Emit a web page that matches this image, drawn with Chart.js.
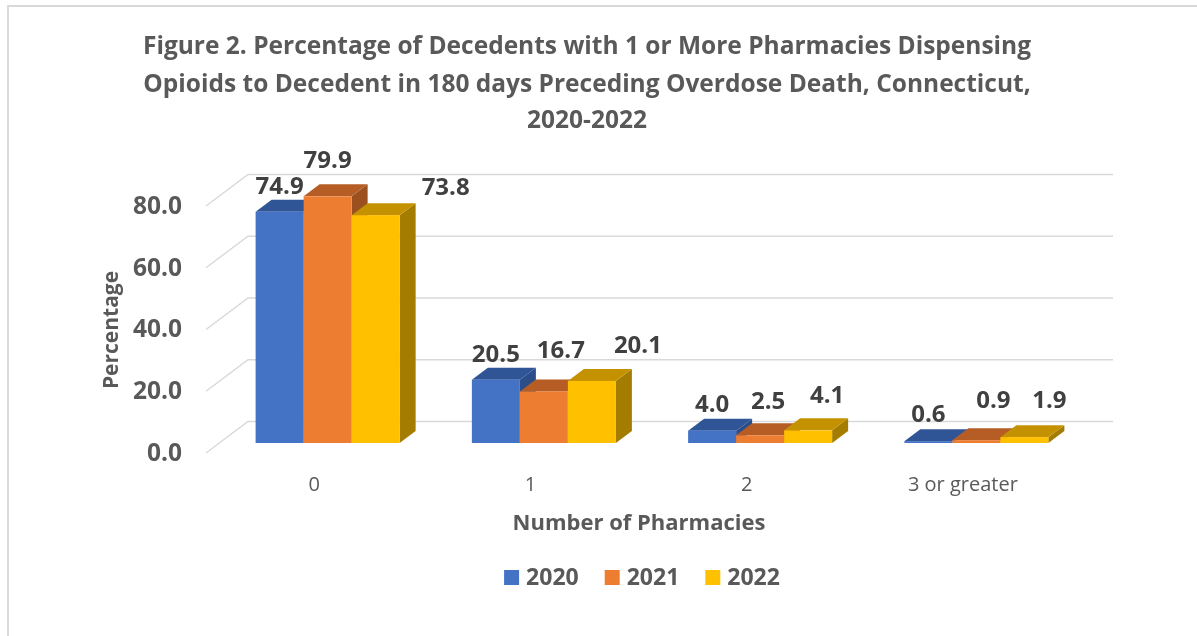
<!DOCTYPE html>
<html>
<head>
<meta charset="utf-8">
<script src="https://cdn.jsdelivr.net/npm/chart.js@4.4.1/dist/chart.umd.min.js"></script>
<style>
  html, body { margin: 0; padding: 0; background: #fff; }
  canvas { display: block; }
</style>
</head>
<body>
<canvas id="chart" width="1197" height="636"></canvas>
<script>
// data
const categories = ['0', '1', '2', '3 or greater'];
const years = ['2020', '2021', '2022'];
const values2020 = [74.9, 20.5, 4.0, 0.6];
const values2021 = [79.9, 16.7, 2.5, 0.9];
const values2022 = [73.8, 20.1, 4.1, 1.9];
const yTicks = [0, 20, 40, 60, 80];

const titleLines = [
  'Figure 2. Percentage of Decedents with 1 or More Pharmacies Dispensing',
  'Opioids to Decedent in 180 days Preceding Overdose Death, Connecticut,',
  '2020-2022'
];

const FONT = '"Open Sans", Lato, sans-serif';
const TEXT = '#595959';

// colours per series: front, top, side
const shades = [
  { front: '#4472c4', top: '#2f5597', side: '#2b4d8a' },
  { front: '#ed7d31', top: '#b55d25', side: '#9c5020' },
  { front: '#ffc000', top: '#c49200', side: '#a37c00' }
];

// oblique offsets relative to the bar plane
const BAR_DEPTH = { dx: 16, dy: -12 };
const BACK = { dx: 28.5, dy: -21.5 };
const FRONT = { dx: -13.5, dy: 10 };

// label nudges per series / category (x, y)
const labelNudge = [
  [[0, 0], [0, 0], [0, 0], [0, -1]],
  [[0, -10], [17, -15], [8, -8], [17, -14]],
  [[70, -2], [46, -10], [19, -9], [25, -11]]
];

function poly(ctx, pts, fill) {
  ctx.beginPath();
  ctx.moveTo(pts[0][0], pts[0][1]);
  for (let i = 1; i < pts.length; i++) ctx.lineTo(pts[i][0], pts[i][1]);
  ctx.closePath();
  ctx.fillStyle = fill;
  ctx.fill();
}

const bars3d = {
  id: 'bars3d',
  beforeDatasetsDraw(chart) {
    const { ctx, chartArea: a, scales: { y } } = chart;
    ctx.save();
    // walls
    ctx.strokeStyle = '#d9d9d9';
    ctx.lineWidth = 1.5;
    yTicks.forEach(v => {
      const py = y.getPixelForValue(v);
      ctx.beginPath();
      ctx.moveTo(a.left + FRONT.dx, py + FRONT.dy);
      ctx.lineTo(a.left + BACK.dx, py + BACK.dy);
      ctx.lineTo(a.right + BACK.dx, py + BACK.dy);
      ctx.stroke();
    });
    // bars, left to right so each one hides its neighbour's side
    for (let i = 0; i < categories.length; i++) {
      chart.data.datasets.forEach((ds, d) => {
        const el = chart.getDatasetMeta(d).data[i];
        const { x, y: top, base, width } = el.getProps(['x', 'y', 'base', 'width'], true);
        const l = x - width / 2, r = x + width / 2;
        const c = shades[d];
        poly(ctx, [[r, top], [r + BAR_DEPTH.dx, top + BAR_DEPTH.dy],
          [r + BAR_DEPTH.dx, base + BAR_DEPTH.dy], [r, base]], c.side);
        poly(ctx, [[l, top], [l + BAR_DEPTH.dx, top + BAR_DEPTH.dy],
          [r + BAR_DEPTH.dx, top + BAR_DEPTH.dy], [r, top]], c.top);
        ctx.fillStyle = c.front;
        ctx.fillRect(l, top, width, base - top);
      });
    }
    ctx.restore();
    return false;
  },
  afterDraw(chart) {
    const { ctx, scales: { x, y } } = chart;
    ctx.save();

    // outer frame
    ctx.fillStyle = '#d9d9d9';
    ctx.fillRect(7, 5, chart.width, 2);
    ctx.fillRect(7, 5, 2, chart.height);

    // title
    ctx.fillStyle = TEXT;
    ctx.textAlign = 'center';
    ctx.textBaseline = 'middle';
    ctx.font = 'bold 24.5px ' + FONT;
    const titleY = [47, 85, 121];
    titleLines.forEach((t, k) => ctx.fillText(t, 587, titleY[k]));

    // y ticks on the front edge
    ctx.font = 'bold 24.5px ' + FONT;
    ctx.textAlign = 'right';
    yTicks.forEach(v => {
      ctx.fillText(v.toFixed(1), 182, y.getPixelForValue(v) + FRONT.dy + 1);
    });

    // y title
    ctx.save();
    ctx.translate(112, 330);
    ctx.rotate(-Math.PI / 2);
    ctx.textAlign = 'center';
    ctx.font = 'bold 21px ' + FONT;
    ctx.fillText('Percentage', 0, 0);
    ctx.restore();

    // category labels
    ctx.textAlign = 'center';
    ctx.font = '20px ' + FONT;
    categories.forEach((c, i) => {
      ctx.fillText(c, x.getPixelForValue(i) + FRONT.dx, 485);
    });

    // x title
    ctx.font = 'bold 22px ' + FONT;
    ctx.fillText('Number of Pharmacies', 639, 524);

    // value labels
    ctx.fillStyle = '#404040';
    ctx.font = 'bold 24px ' + FONT;
    chart.data.datasets.forEach((ds, d) => {
      chart.getDatasetMeta(d).data.forEach((el, i) => {
        const n = labelNudge[d][i];
        ctx.fillText(ds.data[i].toFixed(1), el.x + n[0], el.y - 25 + n[1]);
      });
    });

    // legend
    ctx.font = 'bold 23px ' + FONT;
    ctx.textAlign = 'left';
    const box = 15, gap = 7, spacing = 26;
    const items = chart.data.datasets.map(ds => ({ ds, w: box + gap + ctx.measureText(ds.label).width }));
    const total = items.reduce((s, it) => s + it.w, 0) + spacing * (items.length - 1);
    let lx = 642 - total / 2;
    items.forEach(it => {
      ctx.fillStyle = it.ds.backgroundColor;
      ctx.fillRect(lx, 570, box, box);
      ctx.fillStyle = TEXT;
      ctx.fillText(it.ds.label, lx + box + gap, 578);
      lx += it.w + spacing;
    });

    ctx.restore();
  }
};

new Chart(document.getElementById('chart'), {
  type: 'bar',
  data: {
    labels: categories,
    datasets: [
      { label: years[0], data: values2020, backgroundColor: shades[0].front },
      { label: years[1], data: values2021, backgroundColor: shades[1].front },
      { label: years[2], data: values2022, backgroundColor: shades[2].front }
    ]
  },
  options: {
    responsive: false,
    animation: false,
    categoryPercentage: 0.666,
    barPercentage: 1,
    layout: { padding: { left: 219.5, right: 112.5, top: 196, bottom: 193 } },
    scales: {
      x: { display: false },
      y: { display: false, min: 0, max: 80 }
    },
    plugins: {
      legend: { display: false },
      title: { display: false },
      tooltip: { enabled: false }
    }
  },
  plugins: [bars3d]
});
</script>
</body>
</html>
